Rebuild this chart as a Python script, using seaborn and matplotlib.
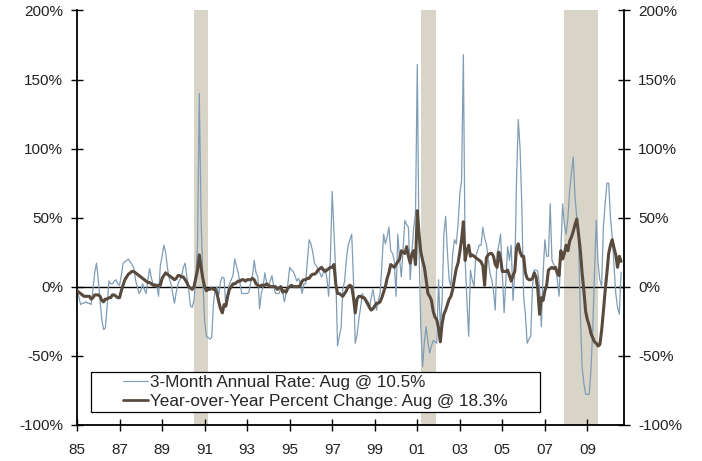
import numpy as np
import pandas as pd
import matplotlib
matplotlib.use("Agg")
import matplotlib.pyplot as plt
from matplotlib.patches import Rectangle
import seaborn as sns

# monthly values, Jan 1985 .. Aug 2010 (percent)
three_month = [
    -4, -7, -13, -12, -12, -11, -12, -12, -13, -2, 10, 17,      # 1985
    5, -10, -24, -31, -30, -14, 4, 2, 2, 4, 5, 2,                # 1986
    1, 8, 17, 18, 19, 20, 18, 16, 14, 5, 0, -5,                  # 1987
    -3, 2, -2, -5, 5, 13, 6, 2, 2, 2, -7, 15,                    # 1988
    22, 30, 25, 14, 6, 2, -5, -12, -4, 2, 5, 7,                  # 1989
    14, 17, 7, -2, -14, -15, -10, 5, 30, 140, 50, 5,             # 1990
    -25, -36, -37, -38, -37, -12, -2, 0, -6, 4, 7, 6,            # 1991
    -15, -4, 2, 5, 8, 20, 15, 10, 2, -5, -5, -5,                 # 1992
    -5, -4, 3, 8, 19, 10, 7, -16, -5, 0, 10, 3,                  # 1993
    0, 4, 8, 0, -5, -5, -5, -1, -3, -11, -5, 2,                  # 1994
    14, 12, 11, 8, 4, 6, 2, -5, 2, 2, 19, 34,                    # 1995
    31, 25, 17, 15, 13, 10, 7, 10, 13, 6, -7, 22,                # 1996
    69, 40, 10, -43, -36, -30, -2, 4, 20, 30, 34, 38,            # 1997
    5, -41, -35, -24, -15, -5, -8, -12, -14, -16, -8, -2,        # 1998
    -10, -17, -10, -5, 15, 38, 31, 36, 43, 26, 24, 19,           # 1999
    -7, 38, 20, 7, 28, 48, 45, 43, 5, 25, 43, 53,                # 2000
    161, 26, -30, -58, -40, -29, -40, -48, -43, -39, -40, -41,   # 2001
    5, -30, -10, 38, 51, 25, 5, 0, 24, 34, 31, 45,               # 2002
    67, 77, 168, 20, -10, -36, 12, 5, 0, 22, 26, 30,             # 2003
    30, 43, 35, 31, 20, 10, 5, -3, -17, 24, 30, 38,              # 2004
    10, -19, 5, 29, 19, 30, -10, 10, 77, 121, 100, 58,           # 2005
    -7, -20, -41, -38, -36, 0, 12, 12, 11, 0, -29, 10,           # 2006
    34, 22, 22, 60, 19, 16, 14, 5, -7, 25, 60, 45,               # 2007
    38, 50, 70, 82, 94, 65, 50, 36, -20, -58, -70, -78,          # 2008
    -78, -78, -60, -31, 10, 48, 17, 5, 0, 43, 60, 75,            # 2009
    75, 50, 36, 15, -5, -15, -20, 10.5,                          # 2010
]

year_over_year = [
    -3, -4, -5, -6, -7, -7, -7, -7, -9, -8, -6, -6,              # 1985
    -6, -7, -10, -11, -9, -9, -8, -8, -6, -6, -7, -8,            # 1986
    -8, -3, 1, 5, 7, 9, 10, 11, 11, 10, 9, 8,                    # 1987
    7, 6, 5, 4, 3, 3, 2, 1, 1, 0, 1, 1,                          # 1988
    6, 8, 10, 9, 8, 7, 6, 5, 6, 8, 8, 7,                         # 1989
    7, 5, 3, 0, -1, -2, 0, 6, 12, 23, 14, 6,                     # 1990
    0, -3, -2, -2, -1, -2, -2, -5, -11, -16, -19, -13,           # 1991
    -14, -7, -2, 0, 2, 2, 3, 4, 4, 5, 5, 4,                      # 1992
    5, 5, 5, 6, 5, 2, 1, 0, 1, 1, 1, 2,                          # 1993
    1, 0, 0, 0, 0, -2, -1, 0, -4, -3, -4, -1,                    # 1994
    0, 1, 0, 0, 0, 0, 1, 4, 5, 5, 6, 6,                          # 1995
    8, 9, 9, 10, 12, 13, 14, 12, 11, 12, 13, 14,                 # 1996
    14, 16, 2, -5, -5, -6, -7, -5, -3, 0, 1, 0,                  # 1997
    -8, -19, -9, -7, -7, -8, -8, -10, -12, -15, -17, -16,        # 1998
    -14, -12, -12, -11, -8, -4, 0, 6, 10, 16, 15, 14,            # 1999
    16, 18, 20, 26, 25, 24, 29, 22, 17, 24, 26, 16,              # 2000
    55, 38, 25, 19, 14, 5, -5, -7, -10, -18, -22, -24,           # 2001
    -30, -40, -27, -20, -17, -13, -9, -7, -2, 6, 13, 17,         # 2002
    25, 34, 47, 19, 26, 30, 22, 23, 22, 21, 20, 19,              # 2003
    18, 15, 1, 21, 23, 24, 24, 22, 16, 14, 25, 20,               # 2004
    11, 11, 11, 12, 8, 4, 8, 11, 28, 31, 25, 22,                 # 2005
    22, 10, 6, 5, 5, 6, 10, 7, -2, -20, -8, -10,                 # 2006
    -3, 1, 12, 13, 14, 13, 14, 10, 8, 26, 20, 24,                # 2007
    30, 26, 33, 36, 40, 45, 49, 38, 26, 10, -3, -18,             # 2008
    -24, -28, -34, -37, -40, -41, -43, -42, -32, -18, -3, 10,    # 2009
    24, 30, 34, 28, 23, 14, 22, 18.3,                            # 2010
]

recessions = [(1990.5, 1991.17), (2001.17, 2001.87), (2007.92, 2009.5)]
tick_years = list(range(1985, 2010, 2))
y_ticks = [-100, -50, 0, 50, 100, 150, 200]

label_3m = "3-Month Annual Rate: Aug @ 10.5%"
label_yoy = "Year-over-Year Percent Change: Aug @ 18.3%"

df = pd.DataFrame({
    "year": 1985 + np.arange(len(three_month)) / 12,
    "three_month": three_month,
    "yoy": year_over_year,
})

sns.set_style("white")
plt.rcParams["font.family"] = ["Liberation Sans", "DejaVu Sans"]

fig = plt.figure(figsize=(7.02, 4.61), dpi=100)
ax = fig.add_axes([77 / 702, 1 - 424.7 / 461, 547 / 702, (424.7 - 10.5) / 461])

for start, end in recessions:
    ax.axvspan(start, end, color="#d8d4c8", lw=0, zorder=0)

ax.axhline(0, color="black", lw=1.0, zorder=1)

sns.lineplot(data=df, x="year", y="three_month", ax=ax, color="#7f9db6",
             lw=0.9, label=label_3m, zorder=2)
sns.lineplot(data=df, x="year", y="yoy", ax=ax, color="#594a3e",
             lw=2.2, label=label_yoy, zorder=3)

ax.set_xlim(1985, 2010.72)
ax.set_ylim(-100, 200)
ax.set_xticks(tick_years)
ax.set_xticklabels([f"{y % 100:02d}" for y in tick_years])
ax.set_yticks(y_ticks)
ax.set_yticklabels([f"{v}%" for v in y_ticks])
ax.set_xlabel("")
ax.set_ylabel("")

for side in ["left", "right", "bottom"]:
    ax.spines[side].set_visible(True)
    ax.spines[side].set_color("black")
    ax.spines[side].set_linewidth(1.3)
ax.spines["top"].set_visible(False)

ax.tick_params(axis="both", which="major", direction="inout", length=8,
               width=1.0, color="black", labelsize=11, labelcolor="#222222")
ax.tick_params(axis="y", left=True, right=True, labelleft=True,
               labelright=True, pad=6)
ax.tick_params(axis="x", bottom=True, pad=9)

# legend box
ax.add_patch(Rectangle((0.026, 0.031), 0.82, 0.097, transform=ax.transAxes,
                       facecolor="white", edgecolor="black", lw=0.9, zorder=5))
leg = ax.legend(loc="upper left", bbox_to_anchor=(0.078, 0.128), frameon=False,
                fontsize=12.3, handlelength=1.45, handletextpad=0.15,
                labelspacing=0.2, borderpad=0.2, borderaxespad=0)
leg.set_zorder(6)
for line in leg.get_lines():
    line.set_linewidth(line.get_linewidth() * 0.9)

fig.savefig("out.png", dpi=100)
